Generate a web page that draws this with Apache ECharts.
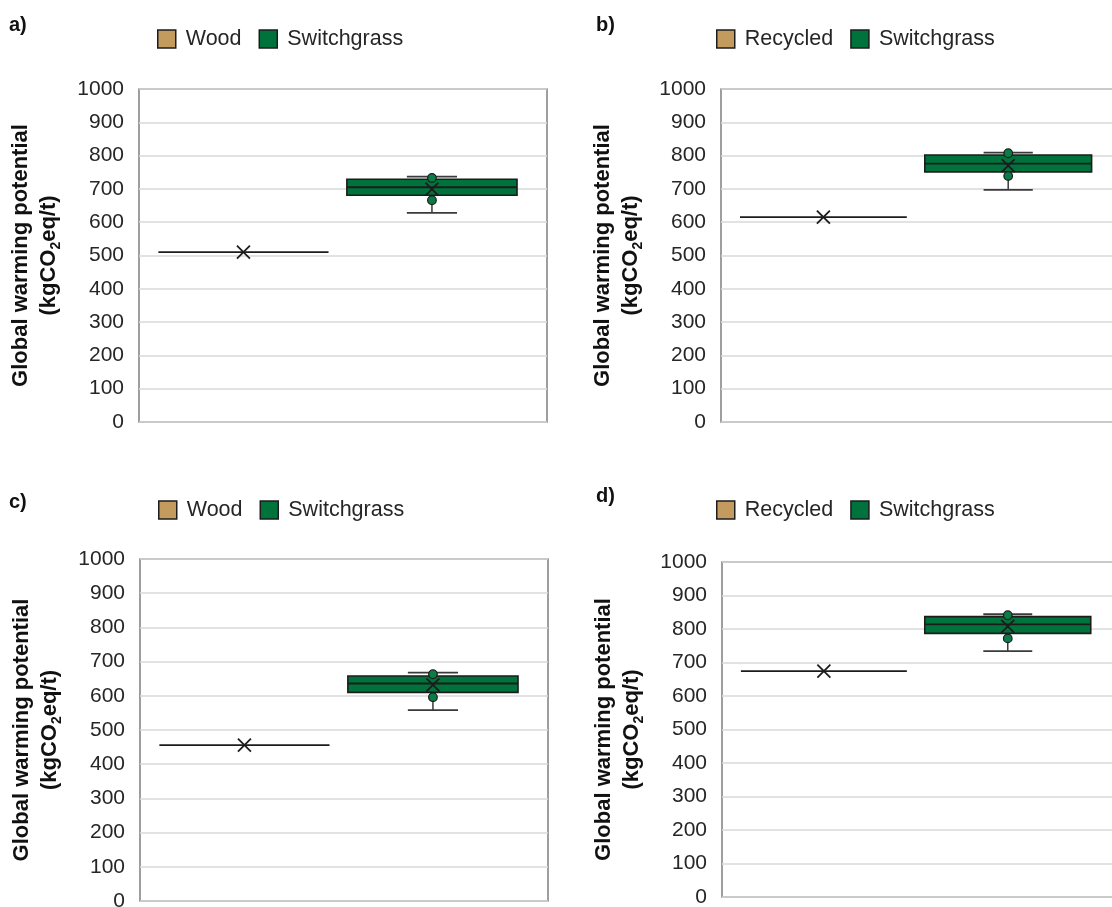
<!DOCTYPE html>
<html>
<head>
<meta charset="utf-8">
<script src="https://cdn.jsdelivr.net/npm/echarts@6/dist/echarts.min.js"></script>
<style>html,body{margin:0;padding:0;background:#fff;}#c{width:1112px;height:907px;}</style>
</head>
<body>
<div id="c"></div>
<script>
// ---------- data ----------
const yTicks = { min: 0, max: 1000, interval: 100 };
const panelLabels = ['a)', 'b)', 'c)', 'd)'];
const baseNames = ['Wood', 'Recycled', 'Wood', 'Recycled'];
const otherName = 'Switchgrass';

// single-value baseline (Wood / Recycled)
const baseA = [510];
const baseB = [615];
const baseC = [456];
const baseD = [674];

// Switchgrass box: [low whisker, Q1, median, Q3, high whisker]
const switchA = [628, 681, 705, 729, 737];
const switchB = [697, 751, 776, 802, 809];
const switchC = [558, 610, 636, 658, 668];
const switchD = [734, 787, 814, 837, 844];

// Switchgrass means
const switchMean = [699, 770, 632, 808];

// Switchgrass visible points
const pointsA = [733, 666];
const pointsB = [807, 739];
const pointsC = [663, 596];
const pointsD = [841, 772];

// ---------- styling ----------
const FONT = "'Liberation Sans', Arial, Helvetica, sans-serif";
const TAN = '#C49B5F';
const GREEN = '#00733D';
const DARK = '#1c1c1c';
const TEXT = '#262626';

const grids = [
  { left: 139, top: 89, width: 408, height: 333 },
  { left: 721, top: 89, width: 400, height: 333 },
  { left: 140, top: 559, width: 408, height: 342 },
  { left: 722, top: 562, width: 398, height: 335 }
];
const legendPos = [
  { left: 157, top: 28 },
  { left: 716, top: 28 },
  { left: 158, top: 499 },
  { left: 716, top: 499 }
];
const labelPos = [
  { left: 9, top: 15 },
  { left: 596, top: 15 },
  { left: 9, top: 492 },
  { left: 596, top: 486 }
];

const BOX_FRAC = 0.417;
const CAP_FRAC = 0.123;
const POS_FRAC = [0.256, 0.718];

function makeRender(posFrac) {
  return function (params, api) {
    const c = api.coord([0, 0]);
    const band = api.size([1, 0])[0];
    const cx = c[0] - band / 2 + band * posFrac;
    const bw = band * BOX_FRAC;
    const cw = band * CAP_FRAC;
    const y = v => api.coord([0, v])[1];
    const low = api.value(1), q1 = api.value(2), med = api.value(3),
          q3 = api.value(4), high = api.value(5), mean = api.value(6);
    const color = api.visual('color');
    const ch = [];
    const line = (x1, y1, x2, y2, col, w) => ch.push({
      type: 'line', shape: { x1, y1, x2, y2 },
      style: { stroke: col, lineWidth: w }
    });
    // whiskers
    if (high > q3) {
      line(cx, y(q3), cx, y(high), '#3a3a3a', 1.5);
      line(cx - cw / 2, y(high), cx + cw / 2, y(high), '#3a3a3a', 1.8);
    }
    if (low < q1) {
      line(cx, y(q1), cx, y(low), '#3a3a3a', 1.5);
      line(cx - cw / 2, y(low), cx + cw / 2, y(low), '#3a3a3a', 1.8);
    }
    // box
    if (q3 > q1) {
      ch.push({
        type: 'rect',
        shape: { x: cx - bw / 2, y: y(q3), width: bw, height: y(q1) - y(q3) },
        style: { fill: color, stroke: DARK, lineWidth: 1.6 }
      });
    }
    // median
    line(cx - bw / 2, y(med), cx + bw / 2, y(med), DARK, 1.8);
    // points
    for (let i = 7; i < 20; i++) {
      const p = api.value(i);
      if (p == null || isNaN(p)) break;
      ch.push({
        type: 'circle',
        shape: { cx: cx, cy: y(p), r: 4.3 },
        style: { fill: '#0A7C46', stroke: DARK, lineWidth: 1.2 }
      });
    }
    // mean marker X
    const my = y(mean), h = 6.5;
    line(cx - h, my - h, cx + h, my + h, DARK, 1.8);
    line(cx - h, my + h, cx + h, my - h, DARK, 1.8);
    return { type: 'group', children: ch };
  };
}

const bases = [baseA, baseB, baseC, baseD];
const switches = [switchA, switchB, switchC, switchD];
const points = [pointsA, pointsB, pointsC, pointsD];

const option = {
  animation: false,
  backgroundColor: '#fff',
  textStyle: { fontFamily: FONT },
  title: panelLabels.map((t, i) => ({
    text: t, left: labelPos[i].left, top: labelPos[i].top, padding: 0,
    textStyle: { fontFamily: FONT, fontSize: 20, fontWeight: 'bold', color: '#111' }
  })),
  legend: baseNames.map((n, i) => ({
    data: [n, otherName],
    left: legendPos[i].left, top: legendPos[i].top, padding: 0,
    icon: 'rect', itemWidth: 18, itemHeight: 18, itemGap: 17,
    selectedMode: false,
    itemStyle: { borderColor: DARK, borderWidth: 1.5 },
    textStyle: { fontFamily: FONT, fontSize: 21.5, color: TEXT, padding: [0, 0, 0, 5] }
  })),
  grid: grids.map(g => Object.assign({
    show: true, borderColor: '#7f7f7f', borderWidth: 1.5, backgroundColor: '#fff',
    outerBoundsMode: 'none', containLabel: false
  }, g)),
  xAxis: grids.map((g, i) => ({
    type: 'category', gridIndex: i, data: [''], boundaryGap: true,
    axisLine: { show: false }, axisTick: { show: false }, axisLabel: { show: false },
    splitLine: { show: false }
  })),
  yAxis: grids.map((g, i) => ({
    type: 'value', gridIndex: i, min: yTicks.min, max: yTicks.max, interval: yTicks.interval,
    axisLine: { show: false }, axisTick: { show: false },
    axisLabel: { fontFamily: FONT, fontSize: 21, color: TEXT, margin: 15, formatter: v => String(v) },
    splitLine: { lineStyle: { color: '#d9d9d9', width: 1.5 } },
    name: '{t|Global warming potential}\n{t|(kgCO}{s|2}{t|eq/t)}',
    nameLocation: 'middle', nameRotate: 90, nameGap: 76,
    nameTextStyle: {
      rich: {
        t: { fontFamily: FONT, fontSize: 22, fontWeight: 'bold', color: '#111', lineHeight: 28 },
        s: { fontFamily: FONT, fontSize: 14, fontWeight: 'bold', color: '#111', lineHeight: 14, verticalAlign: 'bottom' }
      }
    }
  })),
  series: []
};

for (let i = 0; i < 4; i++) {
  const b = bases[i][0];
  option.series.push({
    type: 'custom', name: baseNames[i], xAxisIndex: i, yAxisIndex: i,
    itemStyle: { color: TAN },
    renderItem: makeRender(POS_FRAC[0]),
    encode: { x: 0, y: [1, 2, 3, 4, 5, 6] },
    data: [[0, b, b, b, b, b, b]]
  });
  option.series.push({
    type: 'custom', name: otherName, xAxisIndex: i, yAxisIndex: i,
    itemStyle: { color: GREEN },
    renderItem: makeRender(POS_FRAC[1]),
    encode: { x: 0, y: [1, 2, 3, 4, 5, 6] },
    data: [[0].concat(switches[i], [switchMean[i]], points[i])]
  });
}

const chart = echarts.init(document.getElementById('c'), null, { renderer: 'canvas' });
chart.setOption(option);
</script>
</body>
</html>
